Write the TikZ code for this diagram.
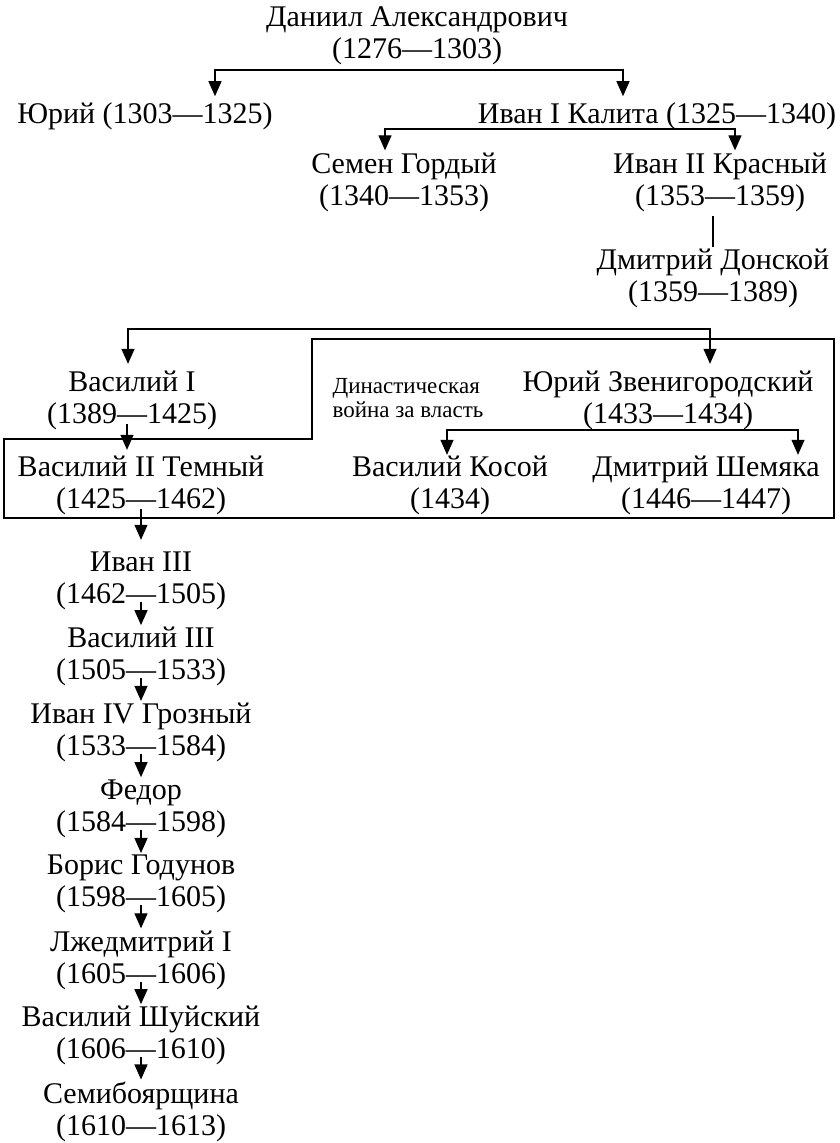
\documentclass[tikz,border=0pt]{standalone}
\usepackage{fontspec}
\setmainfont{Liberation Serif}
\usetikzlibrary{arrows.meta,positioning}

\tikzset{
  person/.style={align=center,inner sep=0pt,font=\fontsize{30}{32}\selectfont},
  arr/.style={-{Triangle[length=15pt,width=13pt]},line width=1.2pt},
  twoarr/.style={{Triangle[length=15pt,width=13pt]}-{Triangle[length=15pt,width=13pt]},line width=1.2pt},
}

\begin{document}
\begin{tikzpicture}[x=1pt,y=-1pt,node distance=75.8pt,on grid]
   \useasboundingbox (0,0) rectangle (840,1143);
   % upper branches
   \node[person] (dan)    at (417,36)    {Даниил Александрович\\(1276—1303)};
   \node[person] (yuri)   at (145,116)   {Юрий (1303—1325)};
   \node[person] (kalita) at (657,116)   {Иван I Калита (1325—1340)};
   \node[person] (semen)  at (404,182)   {Семен Гордый\\(1340—1353)};
   \node[person] (ivan_2) at (720,182)   {Иван II Красный\\(1353—1359)};
   \node[person] (donsk)  at (713,278.5) {Дмитрий Донской\\(1359—1389)};
   \node[person] (vas_1)  at (132,400.5) {Василий I\\(1389—1425)};
   \node[person] (yur_zv) at (668,400.5) {Юрий Звенигородский\\(1433—1434)};
   \node[person] (vas_2)  at (141,485.5) {Василий II Темный\\(1425—1462)};
   \node[person] (kosoy)  at (450,485.5) {Василий Косой\\(1434)};
   \node[person] (shem)   at (706,485.5) {Дмитрий Шемяка\\(1446—1447)};
   \node[align=left,inner sep=0pt,font=\fontsize{23}{24}\selectfont] (war) at (408,398)
      {Династическая\\война за власть};
   % main line
   \node[person] (ivan_3) at (141,581)  {Иван III\\(1462—1505)};
   \node[person] (vas_3)  [below=of ivan_3] {Василий III\\(1505—1533)};
   \node[person] (ivan_4) [below=of vas_3]  {Иван IV Грозный\\(1533—1584)};
   \node[person] (fedor)  [below=of ivan_4] {Федор\\(1584—1598)};
   \node[person] (boris)  [below=of fedor]  {Борис Годунов\\(1598—1605)};
   \node[person] (lzhe)   [below=of boris]  {Лжедмитрий I\\(1605—1606)};
   \node[person] (shuy)   [below=of lzhe]   {Василий Шуйский\\(1606—1610)};
   \node[person] (semib)  [below=of shuy]   {Семибоярщина\\(1610—1613)};

   \coordinate (dan_l) at (215,70);  \coordinate (dan_r) at (623,70);
   \coordinate (kal_l) at (385,129); \coordinate (kal_r) at (735,129);
   \coordinate (don_l) at (128,329); \coordinate (don_r) at (710,329);
   \coordinate (yz_l)  at (447,430); \coordinate (yz_r)  at (798,430);

   \draw[twoarr,shorten <=6pt,shorten >=6pt] (yuri.north -| dan_l) -- (dan_l) -- (dan_r) -- (dan_r |- kalita.north);
   \draw[twoarr,shorten <=2pt,shorten >=2pt] (semen.north -| kal_l) -- (kal_l) -- (kal_r) -- (kal_r |- ivan_2.north);
   \draw[line width=1.2pt,shorten <=4pt,shorten >=2pt] (ivan_2.south -| donsk) -- (donsk.north);
   \draw[twoarr,shorten <=7pt,shorten >=7pt] (vas_1.north -| don_l) -- (don_l) -- (don_r) -- (don_r |- yur_zv.north);
   \draw[twoarr,shorten <=1pt,shorten >=1pt] (kosoy.north -| yz_l) -- (yz_l) -- (yz_r) -- (yz_r |- shem.north);
   \draw[arr,shorten >=6pt] ([yshift=6pt]vas_1.south -| 127,0) -- (vas_2.north -| 127,0);
   \draw[arr,shorten >=12pt] ([yshift=6pt]vas_2.south -| ivan_3) -- (ivan_3.north);
   \foreach \a/\b in {ivan_3/vas_3,vas_3/ivan_4,ivan_4/fedor,fedor/boris,boris/lzhe,lzhe/shuy,shuy/semib}
      \draw[arr,shorten >=2pt] ([yshift=8pt]\a.south) -- (\b.north);

   % frame of the dynastic war
   \draw[line width=1.2pt] (312,339) -- (834,339) -- (834,518) -- (4,518) -- (4,439) -- (312,439) -- cycle;
\end{tikzpicture}
\end{document}
